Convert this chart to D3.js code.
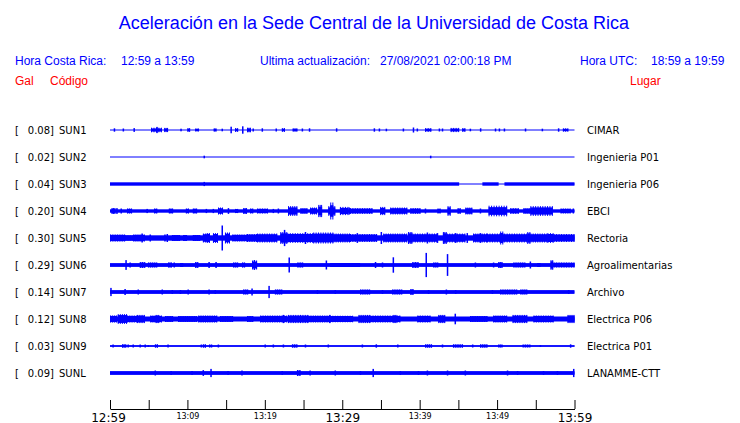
<!DOCTYPE html>
<html><head><meta charset="utf-8">
<script src="https://cdn.jsdelivr.net/npm/d3@7"></script>
<style>
html,body{margin:0;padding:0;background:#fff;}
svg{display:block;}
</style></head>
<body><svg id="c" width="740" height="423"></svg>
<script>
// ---------- DATA ----------
const title = "Aceleración en la Sede Central de la Universidad de Costa Rica";
const localRange = "12:59 a 13:59";
const utcRange = "18:59 a 19:59";
const updated = "27/08/2021 02:00:18 PM";

const codes  = ["SUN1","SUN2","SUN3","SUN4","SUN5","SUN6","SUN7","SUN8","SUN9","SUNL"];
const places = ["CIMAR","Ingenieria P01","Ingenieria P06","EBCI","Rectoria","Agroalimentarias","Archivo","Electrica P06","Electrica P01","LANAMME-CTT"];
const peakGal = [0.08,0.02,0.04,0.20,0.30,0.29,0.14,0.12,0.03,0.09];

// Background noise level (gal) per station, as [startMin, endMin, gal]
const sun1Base = [[0,60,0]];
const sun2Base = [[0,60,0]];
const sun3Base = [[0,45.1,0.03],[45.1,48.1,0],[48.1,50.2,0.03],[50.2,50.95,0],[50.95,60,0.03]];
const sun4Base = [[0,60,0.03]];
const sun5Base = [[0,60,0.055]];
const sun6Base = [[0,60,0.035]];
const sun7Base = [[0,60,0.035]];
const sun8Base = [[0,60,0.05]];
const sun9Base = [[0,60,0.008]];
const sunlBase = [[0,60,0.035]];

// Bursts: [startMin, endMin, peak gal]
const sun1Events = [[0.5,0.65,0.03],[1.65,1.8,0.025],[3.05,3.2,0.035],[5.3,6.7,0.045],[6.0,6.15,0.065],[7.0,7.5,0.04],[9.1,9.25,0.02],[10.0,10.35,0.035],[11.0,11.5,0.025],[13.4,13.75,0.03],[14.45,14.55,0.02],[15.5,15.8,0.07],[16.15,16.55,0.035],[17.0,17.3,0.08],[17.7,18.2,0.045],[18.45,18.55,0.025],[19.6,19.75,0.03],[21.4,21.55,0.025],[22.2,22.6,0.035],[23.6,24.2,0.03],[24.8,24.9,0.025],[25.7,25.85,0.03],[29.2,29.35,0.03],[34.1,34.2,0.03],[34.75,34.85,0.025],[35.65,35.75,0.02],[37.85,37.95,0.025],[39.15,39.25,0.05],[39.65,39.75,0.025],[40.7,41.5,0.035],[42.5,42.6,0.025],[42.9,43.0,0.025],[44.0,45.1,0.04],[45.5,45.9,0.035],[46.5,46.6,0.02],[47.8,47.95,0.03],[49.75,49.85,0.025],[50.25,50.35,0.025],[50.9,51.0,0.025],[53.6,53.75,0.025],[55.8,55.9,0.02],[57.9,58.0,0.03],[58.5,59.2,0.03]];
const sun2Events = [[12.05,12.3,0.02],[41.3,41.55,0.02]];
const sun3Events = [[12.05,12.3,0.04]];
const sun4Events = [[0.2,0.7,0.06],[0.85,0.95,0.06],[1.4,1.5,0.05],[2.2,2.85,0.05],[4.75,4.85,0.04],[5.7,6.1,0.05],[7.6,8.15,0.05],[9.8,10.2,0.05],[10.7,11.25,0.05],[12.4,12.5,0.04],[13.3,13.4,0.04],[13.95,14.6,0.075],[15.25,15.35,0.06],[16.15,16.55,0.04],[17.2,17.7,0.06],[18.1,18.5,0.05],[19.0,20.4,0.05],[21.05,21.15,0.04],[21.7,21.8,0.05],[23.0,24.2,0.11],[24.6,25.5,0.06],[25.85,26.75,0.075],[26.9,27.4,0.14],[28.2,29.1,0.11],[28.45,28.85,0.20],[29.7,30.8,0.09],[30.8,31.0,0.075],[31.0,33.9,0.06],[34.9,35.55,0.09],[36.2,38.4,0.075],[38.8,40.1,0.06],[40.7,40.8,0.05],[42.3,42.7,0.05],[43.6,44.0,0.11],[44.9,45.3,0.06],[45.9,46.8,0.075],[47.8,47.9,0.05],[48.9,51.3,0.12],[51.7,52.8,0.06],[53.4,54.3,0.06],[54.3,57.2,0.11],[58.2,59.5,0.05],[59.7,60,0.05]];
const sun5Events = [[0,1.95,0.075],[1.95,3.0,0.05],[3.0,4.5,0.075],[4.0,4.3,0.1],[5.15,5.25,0.075],[7.05,7.15,0.075],[7.35,7.45,0.0875],[8.0,9.05,0.0625],[9.45,9.95,0.0625],[10.7,11.65,0.0625],[12.0,12.9,0.1],[12.5,12.9,0.11],[13.3,13.95,0.11],[14.45,14.55,0.30],[14.85,15.5,0.125],[15.8,17.7,0.075],[17.7,19.0,0.0875],[19.0,21.6,0.1],[22.0,22.9,0.1375],[22.5,22.6,0.19],[22.9,26.25,0.11],[25.2,25.3,0.1375],[26.25,28.85,0.125],[28.85,31.0,0.1],[31.0,34.5,0.0875],[31.9,32.0,0.11],[34.9,35.2,0.1375],[35.3,38.4,0.1],[38.5,39.05,0.1375],[39.05,42.3,0.1],[40.95,41.05,0.125],[42.25,42.35,0.11],[43.0,43.5,0.1375],[43.5,45.9,0.1],[44.6,44.7,0.11],[46.1,46.2,0.11],[46.9,48.7,0.1],[47.8,47.9,0.11],[48.7,53.9,0.1],[50.4,50.8,0.15],[53.9,54.3,0.1375],[54.3,56.5,0.1],[56.5,57.3,0.11],[57.3,60,0.0875]];
const sun6Events = [[2.0,2.15,0.11],[2.55,2.65,0.05],[3.85,4.55,0.0625],[4.9,6.1,0.05],[7.5,8.0,0.05],[8.25,8.35,0.05],[9.05,9.45,0.0375],[11.0,11.4,0.0625],[12.75,12.85,0.0625],[13.55,13.85,0.0625],[15.9,16.55,0.05],[17.05,17.45,0.05],[18.35,19.0,0.1],[18.6,18.7,0.11],[23.1,23.2,0.175],[24.2,24.95,0.05],[27.9,28.0,0.1],[28.45,32.3,0.0375],[34.25,34.35,0.0625],[35.15,35.25,0.05],[36.55,36.65,0.18],[39.05,39.85,0.0625],[40.8,40.9,0.29],[41.75,42.4,0.05],[43.55,43.65,0.26],[47.15,47.25,0.05],[49.5,49.6,0.05],[50.15,50.7,0.0625],[52.1,53.65,0.05],[54.25,54.35,0.075],[55.2,55.6,0.0375],[56.9,57.25,0.11],[57.3,60,0.05]];
const sun7Events = [[0.05,0.2,0.09],[1.9,2.0,0.0625],[3.6,3.7,0.05],[6.7,6.8,0.05],[8.0,8.1,0.0375],[9.05,9.15,0.0375],[10.05,10.15,0.05],[12.75,12.85,0.05],[13.55,13.65,0.0375],[17.2,17.85,0.05],[18.3,18.4,0.075],[20.5,20.6,0.14],[21.3,22.25,0.05],[26.75,26.85,0.0375],[29.05,29.15,0.0375],[32.3,33.6,0.05],[35.15,35.25,0.0375],[36.45,37.75,0.05],[38.8,39.2,0.0625],[41.1,41.2,0.0375],[43.4,43.5,0.05],[44.6,44.7,0.0375],[49.35,49.45,0.0375],[50.4,52.6,0.05],[53.0,53.9,0.05],[59.2,59.3,0.0375]];
const sun8Events = [[0,0.9,0.075],[1.0,2.2,0.11],[2.2,3.5,0.075],[3.5,4.5,0.09],[5.2,6.7,0.075],[5.9,6.3,0.09],[7.1,8.15,0.0625],[8.8,11.25,0.0625],[11.4,13.85,0.075],[14.2,15.9,0.0625],[17.7,18.5,0.0625],[19.4,22.9,0.075],[22.3,22.5,0.09],[23.0,25.6,0.09],[25.6,28.4,0.075],[28.3,28.5,0.09],[28.4,31.4,0.07],[32.1,33.6,0.09],[33.6,37.5,0.075],[36.6,37.0,0.09],[39.7,41.4,0.075],[42.4,43.3,0.09],[44.55,44.65,0.12],[46.5,48.75,0.0625],[49.5,51.3,0.075],[52.0,53.9,0.09],[54.7,57.3,0.075],[59.1,60,0.09]];
const sun9Events = [[0.35,0.45,0.025],[1.55,2.1,0.03],[2.3,2.4,0.025],[2.95,3.05,0.025],[3.85,3.95,0.025],[4.5,4.6,0.025],[4.9,5.0,0.0125],[5.8,6.2,0.03],[7.45,7.55,0.025],[11.75,11.85,0.025],[12.0,12.4,0.03],[12.8,13.2,0.025],[13.95,14.05,0.025],[20.0,20.1,0.025],[21.05,21.15,0.025],[22.35,22.45,0.025],[23.5,24.2,0.03],[25.2,25.3,0.025],[28.15,28.25,0.025],[32.55,32.65,0.025],[34.35,34.45,0.03],[37.1,37.25,0.025],[40.7,41.6,0.03],[42.9,43.0,0.025],[44.3,45.6,0.03],[46.8,46.9,0.025],[47.8,48.75,0.03],[50.15,50.7,0.025],[53.3,54.3,0.025],[55.55,55.65,0.0125],[59.45,59.55,0.03]];
const sunlEvents = [[5.8,5.9,0.05],[7.85,7.95,0.0375],[10.55,10.65,0.0375],[12.0,12.1,0.06],[12.9,13.2,0.09],[15.2,15.3,0.0375],[17.0,17.1,0.05],[22.2,22.3,0.0375],[24.15,24.6,0.0625],[25.8,25.9,0.05],[29.05,29.15,0.05],[32.3,32.4,0.0375],[33.95,34.05,0.09],[37.45,37.55,0.0375],[39.8,39.9,0.0375],[40.95,41.05,0.05],[43.55,43.65,0.05],[45.85,45.95,0.05],[51.3,51.4,0.05],[52.6,52.7,0.0375],[55.95,56.05,0.0375],[57.75,57.85,0.0375],[59.8,60,0.09]];

const tickTimes = ["12:59","13:04","13:09","13:14","13:19","13:24","13:29","13:34","13:39","13:44","13:49","13:54","13:59"];
const bigTickLabels = ["12:59","13:29","13:59"];
const smallTickLabels = ["13:09","13:19","13:39","13:49"];

// ---------- DRAW ----------
const bases = [sun1Base,sun2Base,sun3Base,sun4Base,sun5Base,sun6Base,sun7Base,sun8Base,sun9Base,sunlBase];
const events = [sun1Events,sun2Events,sun3Events,sun4Events,sun5Events,sun6Events,sun7Events,sun8Events,sun9Events,sunlEvents];

const svg = d3.select("#c");
const BLUE = "#0000ff", RED = "#ff0000";
const sans = "'Liberation Sans', Arial, sans-serif";
const dv = "'DejaVu Sans', sans-serif";

svg.append("text").attr("x",374).attr("y",29).attr("text-anchor","middle")
  .attr("font-family",sans).attr("font-size",18).attr("fill",BLUE).text(title);

const hdr = [[15,"Hora Costa Rica:"],[121,localRange],[260,"Ultima actualización:"],[380,updated],[580,"Hora UTC:"],[651,utcRange]];
svg.selectAll("text.h").data(hdr).join("text").attr("class","h")
  .attr("x",d=>d[0]).attr("y",65).attr("font-family",sans).attr("font-size",12).attr("fill",BLUE).text(d=>d[1]);
const hdr2 = [[15,"Gal"],[50,"Código"],[630,"Lugar"]];
svg.selectAll("text.h2").data(hdr2).join("text").attr("class","h2")
  .attr("x",d=>d[0]).attr("y",85).attr("font-family",sans).attr("font-size",12).attr("fill",RED).text(d=>d[1]);

const parse = d3.timeParse("%H:%M");
const t0 = parse(tickTimes[0]);
const x = d3.scaleTime().domain([t0, parse(tickTimes[tickTimes.length-1])]).range([110,574.5]);
const xm = m => x(new Date(+t0 + m*60000));
const y = d3.scalePoint().domain(codes).range([130,373]);
const amp = d3.scaleLinear().domain([0,0.3]).range([0,12]);

codes.forEach((c,i)=>{
  const g = svg.append("g").attr("transform",`translate(0,${y(c)})`);
  g.append("text").attr("x",15).attr("y",4).attr("font-family",dv).attr("font-size",10).text("[");
  g.append("text").attr("x",54).attr("y",4).attr("text-anchor","end").attr("font-family",dv).attr("font-size",10).text(peakGal[i].toFixed(2)+"]");
  g.append("text").attr("x",59).attr("y",4).attr("font-family",dv).attr("font-size",10).text(c);
  g.append("text").attr("x",587).attr("y",4).attr("font-family",dv).attr("font-size",10).text(places[i]);
  g.append("line").attr("x1",xm(0)).attr("x2",xm(60)).attr("y1",0).attr("y2",0).attr("stroke",BLUE).attr("stroke-width",1);

  const baseAt = m => { const s = bases[i].find(b=>m>=b[0]&&m<b[1]); return s?s[2]:0; };
  g.selectAll("rect.base").data(bases[i].filter(d=>d[2]>0)).join("rect").attr("class","base")
    .attr("x",d=>xm(d[0])).attr("width",d=>xm(d[1])-xm(d[0]))
    .attr("y",d=>-amp(d[2])-0.5).attr("height",d=>2*amp(d[2])+1).attr("fill",BLUE);
  const bands = [], spikes = [];
  events[i].forEach(e=>{
    const x0 = xm(e[0]), x1 = xm(e[1]), w = x1-x0, b = baseAt(e[0]);
    if (w < 2.5) { spikes.push({x:(x0+x1)/2-0.75, w:1.5, a:e[2]}); return; }
    bands.push({x:x0, w:w, a:b+0.6*(e[2]-b)});
    const n = Math.max(2, Math.round(w/2.5)+1);
    for (let k=0;k<n;k++) spikes.push({x:x0+k*(w-1)/(n-1), w:1, a:e[2]});
  });
  g.selectAll("rect.band").data(bands).join("rect").attr("class","band")
    .attr("x",d=>d.x).attr("width",d=>d.w).attr("y",d=>-amp(d.a)-0.5).attr("height",d=>2*amp(d.a)+1).attr("fill",BLUE);
  g.selectAll("rect.spk").data(spikes).join("rect").attr("class","spk")
    .attr("x",d=>d.x).attr("width",d=>d.w).attr("y",d=>-amp(d.a)-0.5).attr("height",d=>2*amp(d.a)+1).attr("fill",BLUE);
});

// axis
const fmt = d3.timeFormat("%H:%M");
const axis = d3.axisBottom(x).tickValues(tickTimes.map(parse))
  .tickSizeInner(-9).tickSizeOuter(0).tickPadding(3)
  .tickFormat(d=>{const s=fmt(d); return (bigTickLabels.includes(s)||smallTickLabels.includes(s))?s:"";});
const ax = svg.append("g").attr("transform","translate(0,409)").call(axis);
ax.select(".domain").attr("stroke","#000");
ax.selectAll(".tick line").attr("stroke","#000");
ax.selectAll(".tick text").attr("fill","#000").attr("font-family",dv)
  .attr("font-size",d=>bigTickLabels.includes(fmt(d))?12:8)
  .attr("dy",d=>bigTickLabels.includes(fmt(d))?"9.5px":"7px")
  .attr("dx",d=>fmt(d)==="12:59"?"-2px":"0");
</script></body></html>
